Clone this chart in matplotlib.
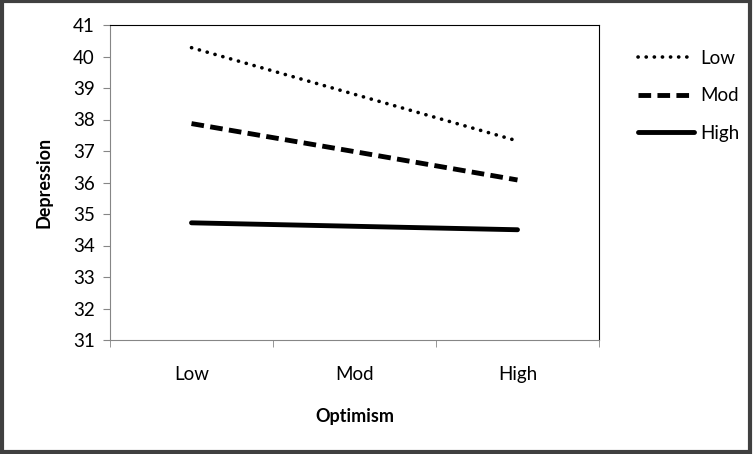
import matplotlib
matplotlib.use("Agg")
import matplotlib.pyplot as plt
from matplotlib.patches import Rectangle
import numpy as np

optimism = ["Low", "Mod", "High"]
low_vals = [40.28, 38.80, 37.32]
mod_vals = [37.87, 36.98, 36.08]
high_vals = [34.72, 34.61, 34.50]

plt.rcParams['font.family'] = ['Lato', 'DejaVu Sans']

fig = plt.figure(figsize=(7.54, 4.54), dpi=100)
ax = fig.add_axes([110/754, 1 - 340/454, 489/754, 315/454])

x = np.arange(len(optimism))
ax.plot(x, low_vals, color='black', linestyle=(0, (0.05, 2.2)), dash_capstyle='round', lw=2.6, label="Low")
ax.plot(x, mod_vals, color='black', linestyle=(0, (2.6, 1.3)), lw=3.5, label="Mod")
ax.plot(x, high_vals, color='black', linestyle='-', lw=3.5, solid_capstyle='round', label="High")

ax.set_xlim(-0.5, 2.5)
ax.set_ylim(31, 41)
ax.set_yticks(range(31, 42))
ax.set_xticks(x)
ax.set_xticklabels(optimism)
ax.set_xticks([-0.5, 0.5, 1.5, 2.5], minor=True)
ax.tick_params(axis='x', which='major', length=0, pad=19, labelsize=13.5)
ax.tick_params(axis='x', which='minor', length=5, color='#868686')
ax.tick_params(axis='y', length=5, color='#868686', labelsize=13.5, pad=6)

for side in ('left', 'bottom'):
    ax.spines[side].set_color('#868686')
for side in ('top', 'right'):
    ax.spines[side].set_color('black')

ax.set_xlabel("Optimism", fontweight='bold', fontsize=13, labelpad=18)
ax.set_ylabel("Depression", fontweight='bold', fontsize=13, labelpad=15)

ax.legend(loc='upper left', bbox_to_anchor=(1.045, 0.975), frameon=False,
          fontsize=13.5, handlelength=3.0, handletextpad=0.3, labelspacing=1.1)

fig.patches.append(Rectangle((0.002, 0.004), 0.993, 0.993, transform=fig.transFigure,
                             fill=False, edgecolor='#404040', lw=3))

fig.savefig("out.png", dpi=100)
